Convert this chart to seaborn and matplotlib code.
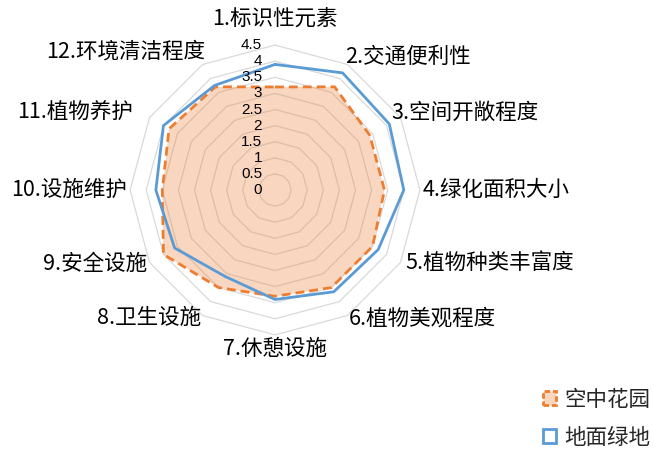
import numpy as np
import matplotlib
matplotlib.use("Agg")
import matplotlib.pyplot as plt
from matplotlib.patches import Patch
import seaborn as sns

# ---- data ----
categories = ["1.标识性元素", "2.交通便利性", "3.空间开敞程度", "4.绿化面积大小",
              "5.植物种类丰富度", "6.植物美观程度", "7.休憩设施", "8.卫生设施",
              "9.安全设施", "10.设施维护", "11.植物养护", "12.环境清洁程度"]
sky_garden = [3.2, 3.7, 3.4, 3.4, 3.5, 3.5, 3.3, 3.5, 4.0, 3.5, 3.8, 3.7]
ground_green = [3.9, 4.2, 4.1, 4.0, 3.7, 3.65, 3.4, 3.1, 3.6, 3.7, 4.0, 3.75]
series_names = ["空中花园", "地面绿地"]
tick_values = [0, 0.5, 1, 1.5, 2, 2.5, 3, 3.5, 4, 4.5]
tick_labels = ["0", "0.5", "1", "1.5", "2", "2.5", "3", "3.5", "4", "4.5"]

# ---- style ----
sns.set_theme(style="white")
plt.rcParams["font.family"] = ["Noto Sans CJK SC", "DejaVu Sans"]

ORANGE = "#ED7D31"
BLUE = "#5B9BD5"
GRID = "#D9D9D9"

W, H, DPI = 653, 451, 100
CX, CY = 275, 190          # centre of the radar, pixels from top-left
UNIT = 32.2                # pixels per value unit

fig = plt.figure(figsize=(W / DPI, H / DPI), dpi=DPI)
ax = fig.add_axes([0, 0, 1, 1])
ax.set_xlim(-CX / UNIT, (W - CX) / UNIT)
ax.set_ylim(-(H - CY) / UNIT, CY / UNIT)
ax.axis("off")

n = len(categories)
angles = np.deg2rad(np.arange(n) * 360.0 / n)   # clockwise from the top


def radar_xy(values):
    v = np.asarray(values, dtype=float)
    x = v * np.sin(angles)
    y = v * np.cos(angles)
    return np.append(x, x[0]), np.append(y, y[0])


# polygon grid rings
for level in tick_values[1:]:
    gx, gy = radar_xy([level] * n)
    ax.plot(gx, gy, color=GRID, lw=0.9, zorder=1)

# value labels along the vertical axis
for v, lab in zip(tick_values, tick_labels):
    ax.text(-0.4, v, lab, ha="right", va="center", fontsize=11,
            family="Liberation Sans", color="black", zorder=5)

# series 1: filled area with dashed outline
sx, sy = radar_xy(sky_garden)
ax.fill(sx, sy, color=ORANGE, alpha=0.31, lw=0, zorder=2)
sns.lineplot(x=sx, y=sy, sort=False, estimator=None, ax=ax, color=ORANGE,
             lw=2.0, linestyle=(0, (3.2, 1.8)), zorder=3)

# series 2: outline only
gx2, gy2 = radar_xy(ground_green)
sns.lineplot(x=gx2, y=gy2, sort=False, estimator=None, ax=ax, color=BLUE,
             lw=2.0, zorder=4)

# category labels around the chart
label_r = 4.6
nudges = [(0, 12), (-4, 5), (-12, 3), (0, 0), (2, 1), (0, 0),
          (0, 0), (0, 0), (0, 0), (0, 0), (-14, 3), (4, 10)]
for k, (lab, a) in enumerate(zip(categories, angles)):
    s, c = np.sin(a), np.cos(a)
    if abs(s) < 0.1:
        ha = "center"
        va = "bottom" if c > 0 else "top"
    else:
        ha = "left" if s > 0 else "right"
        va = "center"
    ax.annotate(lab, xy=(label_r * s, label_r * c), xytext=nudges[k],
                textcoords="offset pixels", ha=ha, va=va, fontsize=15.5,
                color="black")

# legend
handles = [
    Patch(facecolor=(0.93, 0.49, 0.19, 0.31), edgecolor=ORANGE, lw=2,
          linestyle=(0, (2, 1))),
    Patch(facecolor="white", edgecolor=BLUE, lw=2),
]
ax.legend(handles, series_names, loc="upper left",
          bbox_to_anchor=(543 / W, 1 - 389 / H), bbox_transform=fig.transFigure,
          frameon=False, fontsize=15.5, handlelength=0.62, handleheight=0.62,
          handletextpad=0.35, labelspacing=0.72, borderpad=0, borderaxespad=0)

fig.savefig("out.png", dpi=DPI)
